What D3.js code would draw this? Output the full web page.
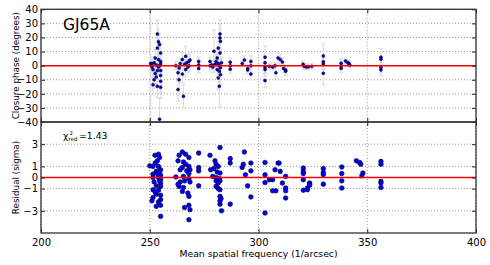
<!DOCTYPE html>
<html>
<head>
<meta charset="utf-8">
<script src="https://cdn.jsdelivr.net/npm/d3@7"></script>
<style>
  body { margin: 0; background: #fff; }
  svg { display: block; font-family: "DejaVu Sans", sans-serif; }
</style>
</head>
<body>
<div id="chart"></div>
<script>
// closure phases (top panel): frequency, phase in degrees, error bar
const cpFreq = [250.4, 253.5, 254.0, 254.5, 253.5, 255.0, 252.5, 254.0, 255.0, 251.0, 253.0, 254.5, 251.5, 253.5, 255.0,
  252.5, 255.0, 252.0, 255.0, 251.5, 253.5, 255.0, 254.5, 252.0, 254.0, 255.0, 253.0, 251.0,
  266.5, 265.0, 268.0, 264.0, 268.0, 262.0, 263.5, 266.5, 263.0, 265.0, 263.5, 263.0, 265.5, 267.0, 267.5, 266.0, 268.5,
  272.5, 272.5, 272.5, 277.7, 277.7,
  282.3, 282.3, 282.5, 281.5, 282.3, 281.0, 279.5, 280.5, 281.5, 282.0, 279.0, 281.0, 282.0, 282.5, 281.5, 282.0,
  280.0, 283.0, 282.5, 278.5,
  287.0, 287.0, 287.0, 292.5, 293.5, 295.0, 295.0, 296.5, 296.5, 296.5,
  303.0, 303.0, 303.0, 303.0, 303.0, 305.0, 306.5, 307.6, 308.0, 309.0, 310.0, 311.0, 311.5, 312.5, 312.5,
  320.5, 321.0, 322.0, 323.0, 324.5, 329.8, 329.8, 329.8, 329.8,
  338.0, 338.0, 338.0, 340.0, 341.0, 341.5, 342.0, 356.3, 356.3, 356.3, 356.3];
const cpVal = [1.5, 22.5, 17, 15, 12.5, 9, 5.5, 4.3, 3, 1.5, 0.5, 0, -2.8, -3.5, -3.5,
  -5.5, -7, -10, -11, -13.5, -14.6, -15.3, -38, 2, -1, 1.2, -8, -1,
  6.7, 4.3, 3, 1.5, 0, 0, -1.6, -2.8, -5, -6, -10, -17, -21.7, 2, -1, 1, 4,
  3, 0.5, -2, 3, 0,
  22.5, 19.7, 17.3, 12.5, 9, 5.5, 10.2, 3, 1.5, 0, -1, -2.8, -4, -6.4, -8.7, -14.6,
  1, 2, -1.5, 0.5,
  2.5, 0, -2.5, 1.5, 4, -2, -3, 3, 0, -6,
  6, 2, -1.1, -2.8, -10.6, -0.5, -1, 0, -5, 5.5, 4.3, 2.6, -2, -3, -4,
  1, -0.5, -1, -0.8, -0.5, 6.9, 2.8, 1.2, -5.4,
  1.7, 0, -1.8, 3.3, 2.1, 1.7, 0.5, 6, 4.5, -1.4, -3];
const cpErr = [60, 10, 9, 8, 8, 7, 6, 6, 5, 5, 4, 5, 6, 6, 6,
  7, 7, 6, 8, 7, 8, 8, 15, 4, 5, 4, 7, 4,
  7, 5, 5, 4, 4, 3, 4, 5, 6, 6, 7, 8, 8, 4, 4, 3, 5,
  3, 3, 3, 3, 3,
  10, 9, 9, 8, 7, 6, 15, 5, 4, 5, 4, 5, 6, 7, 8, 15,
  3, 4, 5, 3,
  3, 3, 3, 2, 3, 3, 3, 4, 4, 4,
  8, 5, 4, 4, 5, 2, 2, 2, 4, 4, 4, 3, 3, 3, 3,
  2, 2, 2, 2, 2, 9, 5, 4, 8,
  3, 3, 3, 2, 2, 2, 2, 6, 5, 4, 4];

// residuals (bottom panel): frequency, residual in sigma
const resFreq = [250.0, 252.4, 254.0, 254.5, 252.5, 251.5, 254.0, 255.0, 253.0, 251.5, 255.0, 251.5, 254.0, 255.0, 252.0,
  255.0, 253.0, 255.0, 251.5, 254.0, 253.0, 255.0, 251.5, 255.0, 254.0, 251.0, 253.0, 255.0, 255.0,
  253.5, 254.5, 253.5, 252.5, 254.5,
  263.5, 265.0, 266.5, 268.0, 263.0, 265.5, 266.5, 268.0, 265.0, 268.5, 264.0, 267.0, 268.0, 262.0, 265.5,
  268.0, 264.0, 266.0, 268.5, 263.5, 265.5, 263.0, 265.0, 267.5, 268.0, 266.0, 268.0, 268.5, 268.0,
  272.5, 272.5, 272.5, 272.5, 277.7,
  282.3, 280.0, 280.5, 281.5, 278.0, 279.5, 281.0, 282.3, 279.0, 280.5, 282.0, 280.5, 282.3, 281.5, 280.5, 281.5,
  282.3, 282.3, 282.8, 282.3, 282.3, 283.0,
  287.0, 287.0, 287.0, 293.5, 292.5, 293.0, 294.0, 295.0, 296.5, 296.5, 296.5,
  303.0, 303.0, 303.0, 303.0, 305.0, 306.5, 307.6, 306.5, 308.0, 309.0, 309.5, 310.0, 311.0, 312.5,
  312.5, 312.5, 312.5,
  320.6, 320.6, 320.6, 320.6, 320.6, 322.5, 322.5, 323.5, 323.5, 323.5,
  329.8, 329.8, 329.8, 329.8, 338.3, 338.3, 338.3, 338.3,
  345.0, 346.5, 347.0, 348.0, 347.5, 356.3, 356.3, 356.3, 356.3, 356.3];
const resVal = [1.05, 2.0, 2.1, 1.8, 1.3, 1.0, 1.0, 0.7, 0.55, 0.3, 0.2, 0.0, 0.0, -0.15, -0.4,
  -0.5, -0.75, -0.8, -1.1, -1.15, -1.5, -1.6, -1.8, -2.0, -2.2, -2.1, -2.6, -2.5, -3.5,
  0.35, -0.3, 1.5, -1.3, 0.5,
  2.0, 2.3, 2.1, 1.8, 1.5, 1.4, 1.2, 1.0, 0.9, 0.7, 0.7, 0.6, 0.35, 0.05, 0.1,
  -0.1, -0.4, -0.3, -0.4, -0.8, -0.9, -0.6, -1.25, -1.4, -1.7, -2.7, -2.5, -2.9, -3.8,
  2.2, 0.9, 0.6, -0.75, 2.0,
  2.7, 1.5, 1.2, 1.0, 0.7, 0.8, 0.5, 0.4, 0.1, 0.0, -0.1, -0.3, -0.3, -0.5, -0.8, -1.0,
  -1.1, -1.7, -1.9, -2.1, -2.4, -3.0,
  1.7, 1.3, -2.4, 2.3, 0.9, 1.2, 0.25, -0.75, 1.3, 0.6, -1.75,
  1.35, 0.25, -0.45, -3.2, -0.2, -0.2, 0.7, -1.2, -1.2, 1.3, 1.3, 0.55, -0.5, 0.1,
  -0.95, -1.2, -1.85,
  0.85, 0.55, 0.35, -0.2, -1.15, -1.1, -0.95, -0.5, -0.6, -0.7,
  0.8, 0.45, 0.25, -0.6, 0.95, 0.35, -0.3, -0.95,
  1.5, 1.35, 1.2, 0.4, 0.15, 1.45, 1.2, -0.35, -0.5, -0.9];

const freqTicks = [200, 250, 300, 350, 400];
const cpTicks = [-40, -30, -20, -10, 0, 10, 20, 30, 40];
const resTicks = [-3, -1, 0, 1, 3];
const chiLabel = '1.43';
const starName = 'GJ65A';

const W = 490, H = 265;
const left = 41, right = 476;
const topPanel = { y0: 9.3, y1: 122 };
const botPanel = { y0: 122, y1: 233 };

const svg = d3.select('#chart').append('svg')
  .attr('width', W)
  .attr('height', H);

const x = d3.scaleLinear().domain([200, 400]).range([left, right]);
const yTop = d3.scaleLinear().domain([-40, 40]).range([topPanel.y1, topPanel.y0]);
const yBot = d3.scaleLinear().domain([-5, 5]).range([botPanel.y1, botPanel.y0]);

const gridColor = '#9a9a9a';

// dotted grid of one panel
function drawGrid(y, yTicks, panel) {
  const g = svg.append('g');
  g.selectAll('.gy').data(yTicks).enter().append('line')
    .attr('x1', left).attr('x2', right)
    .attr('y1', d => y(d)).attr('y2', d => y(d))
    .attr('stroke', gridColor).attr('stroke-width', 1)
    .attr('stroke-dasharray', '1,2');
  g.selectAll('.gx').data(freqTicks).enter().append('line')
    .attr('x1', d => x(d)).attr('x2', d => x(d))
    .attr('y1', panel.y0).attr('y2', panel.y1)
    .attr('stroke', gridColor).attr('stroke-width', 1)
    .attr('stroke-dasharray', '1,2');
}

// frame + inward ticks on all four sides
function drawFrame(y, yTicks, panel, showX) {
  const g = svg.append('g').style('font-size', '9px');

  const yl = g.append('g').attr('transform', `translate(${left},0)`)
    .call(d3.axisLeft(y).tickValues(yTicks).tickSizeInner(-4).tickSizeOuter(0).tickPadding(3));
  const yr = g.append('g').attr('transform', `translate(${right},0)`)
    .call(d3.axisRight(y).tickValues(yTicks).tickSizeInner(-4).tickSizeOuter(0).tickFormat(''));
  const xb = g.append('g').attr('transform', `translate(0,${panel.y1})`)
    .call(d3.axisBottom(x).tickValues(freqTicks).tickSizeInner(-4).tickSizeOuter(0).tickPadding(6)
      .tickFormat(showX ? d3.format('d') : ''));
  const xt = g.append('g').attr('transform', `translate(0,${panel.y0})`)
    .call(d3.axisTop(x).tickValues(freqTicks).tickSizeInner(-4).tickSizeOuter(0).tickFormat(''));

  [yl, yr, xb, xt].forEach(a => {
    a.select('.domain').remove();
    a.selectAll('.tick line').attr('stroke', '#222');
    a.selectAll('text').attr('fill', '#000').style('font-family', '"DejaVu Sans", sans-serif');
  });

  g.append('rect')
    .attr('x', left).attr('y', panel.y0)
    .attr('width', right - left).attr('height', panel.y1 - panel.y0)
    .attr('fill', 'none').attr('stroke', '#333').attr('stroke-width', 1.3);
}

// ---- top panel: closure phases
drawGrid(yTop, cpTicks, topPanel);

const cpData = cpFreq.map((f, i) => ({ f, v: cpVal[i], e: cpErr[i] }));
svg.append('clipPath').attr('id', 'clipTop').append('rect')
  .attr('x', left).attr('y', topPanel.y0).attr('width', right - left).attr('height', topPanel.y1 - topPanel.y0);

const eb = svg.append('g').attr('clip-path', 'url(#clipTop)')
  .attr('stroke', '#dedede').attr('stroke-width', 1.2).attr('fill', 'none');
eb.selectAll('.bar').data(cpData).enter().append('line')
  .attr('x1', d => x(d.f)).attr('x2', d => x(d.f))
  .attr('y1', d => yTop(d.v - d.e)).attr('y2', d => yTop(d.v + d.e));
eb.selectAll('.capHi').data(cpData).enter().append('line')
  .attr('x1', d => x(d.f) - 2).attr('x2', d => x(d.f) + 2)
  .attr('y1', d => yTop(d.v + d.e)).attr('y2', d => yTop(d.v + d.e));
eb.selectAll('.capLo').data(cpData).enter().append('line')
  .attr('x1', d => x(d.f) - 2).attr('x2', d => x(d.f) + 2)
  .attr('y1', d => yTop(d.v - d.e)).attr('y2', d => yTop(d.v - d.e));

svg.append('g').selectAll('circle').data(cpData).enter().append('circle')
  .attr('cx', d => x(d.f)).attr('cy', d => yTop(d.v))
  .attr('r', 1.5)
  .attr('fill', '#0000cc').attr('stroke', '#000033').attr('stroke-width', 0.5);

svg.append('line')
  .attr('x1', left).attr('x2', right)
  .attr('y1', yTop(0)).attr('y2', yTop(0))
  .attr('stroke', '#ff0000').attr('stroke-width', 1.5);

drawFrame(yTop, cpTicks, topPanel, false);

svg.append('text')
  .attr('x', 63).attr('y', 30)
  .style('font-size', '15.5px')
  .text(starName);

// ---- bottom panel: residuals
drawGrid(yBot, resTicks, botPanel);

const resData = resFreq.map((f, i) => ({ f, v: resVal[i] }));
svg.append('g').selectAll('circle').data(resData).enter().append('circle')
  .attr('cx', d => x(d.f)).attr('cy', d => yBot(d.v))
  .attr('r', 2.3)
  .attr('fill', '#0000ff').attr('stroke', '#000022').attr('stroke-width', 0.6);

svg.append('line')
  .attr('x1', left).attr('x2', right)
  .attr('y1', yBot(0)).attr('y2', yBot(0))
  .attr('stroke', '#ff0000').attr('stroke-width', 1.5);

drawFrame(yBot, resTicks, botPanel, true);

// reduced chi-square annotation
const chi = svg.append('g').style('font-size', '9.3px');
chi.append('text').attr('x', 63).attr('y', 139).text('\u03c7');
chi.append('text').attr('x', 69.5).attr('y', 134.5).style('font-size', '5.5px').text('2');
chi.append('text').attr('x', 68.5).attr('y', 141).style('font-size', '5.5px').text('red');
chi.append('text').attr('x', 79).attr('y', 139).text('=' + chiLabel);

// axis labels
svg.append('text')
  .attr('x', (left + right) / 2).attr('y', 257)
  .attr('text-anchor', 'middle')
  .style('font-size', '9.3px')
  .text('Mean spatial frequency (1/arcsec)');

svg.append('text')
  .attr('transform', `translate(18.5,${(topPanel.y0 + topPanel.y1) / 2}) rotate(-90)`)
  .attr('text-anchor', 'middle')
  .style('font-size', '8.8px')
  .text('Closure phase (degrees)');

svg.append('text')
  .attr('transform', `translate(18.5,${(botPanel.y0 + botPanel.y1) / 2}) rotate(-90)`)
  .attr('text-anchor', 'middle')
  .style('font-size', '8.8px')
  .text('Residual (sigma)');
</script>
</body>
</html>
